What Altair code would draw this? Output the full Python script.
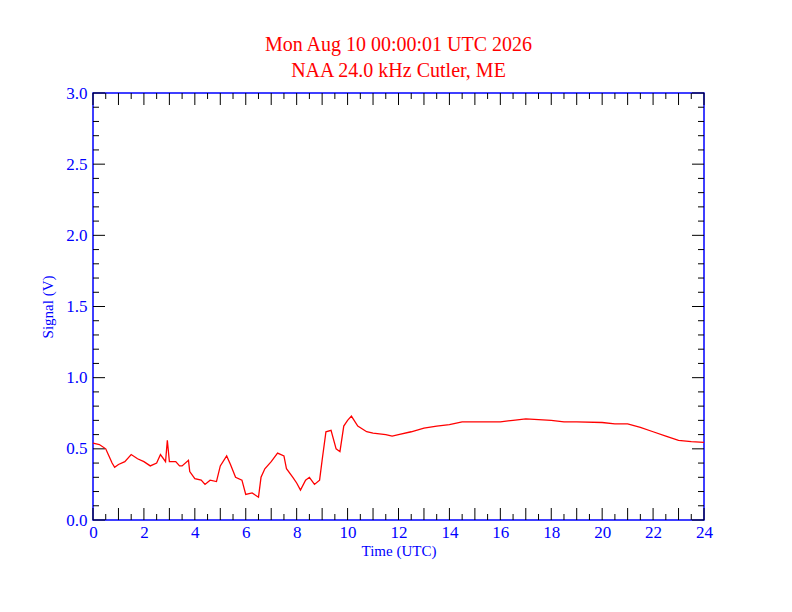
import altair as alt
import pandas as pd

# signal trace (hours UTC, volts)
hours = [0, 0.25, 0.5, 0.6, 0.75, 0.85, 1.0, 1.25, 1.5, 1.75, 2.0, 2.25, 2.5, 2.65,
         2.85, 2.92, 3.0, 3.25, 3.4, 3.5, 3.75, 3.8, 4.0, 4.25, 4.4, 4.6, 4.85, 5.0,
         5.25, 5.4, 5.6, 5.85, 6.0, 6.25, 6.5, 6.6, 6.75, 7.0, 7.25, 7.5, 7.6, 7.85,
         8.0, 8.15, 8.35, 8.5, 8.7, 8.9, 9.0, 9.15, 9.35, 9.55, 9.7, 9.85, 10.0,
         10.15, 10.4, 10.75, 11.0, 11.5, 11.75, 12.0, 12.5, 13.0, 13.5, 14.0, 14.5,
         15.0, 16.0, 16.5, 17.0, 18.0, 18.5, 19.0, 20.0, 20.5, 21.0, 21.5, 22.0,
         22.5, 23.0, 23.5, 24.0]
signal = [0.54, 0.53, 0.50, 0.46, 0.40, 0.37, 0.39, 0.41, 0.46, 0.43, 0.41, 0.38,
          0.40, 0.46, 0.41, 0.56, 0.41, 0.41, 0.38, 0.38, 0.42, 0.34, 0.29, 0.28,
          0.25, 0.28, 0.27, 0.38, 0.45, 0.39, 0.30, 0.28, 0.18, 0.19, 0.16, 0.30,
          0.36, 0.41, 0.47, 0.45, 0.36, 0.30, 0.26, 0.21, 0.28, 0.30, 0.25, 0.28,
          0.42, 0.62, 0.63, 0.50, 0.48, 0.66, 0.70, 0.73, 0.66, 0.62, 0.61, 0.60,
          0.59, 0.60, 0.62, 0.645, 0.66, 0.67, 0.69, 0.69, 0.69, 0.70, 0.71, 0.70,
          0.69, 0.69, 0.685, 0.675, 0.675, 0.65, 0.62, 0.59, 0.56, 0.55, 0.545]

x_major = list(range(0, 25))
x_minor = [h + 0.5 for h in range(0, 24)]
y_major = [0, 0.5, 1.0, 1.5, 2.0, 2.5, 3.0]
y_minor = [i / 10 for i in range(0, 31) if i % 5]

W, H = 611, 427
BLUE = "#0000ff"
FONT = "Liberation Serif"

xs = alt.Scale(domain=[0, 24], nice=False)
ys = alt.Scale(domain=[0, 3], nice=False)

df = pd.DataFrame({"h": hours, "v": signal})

line = alt.Chart(df).mark_line(color="red", strokeWidth=1.3).encode(
    x=alt.X("h:Q", scale=xs, title="Time (UTC)",
            axis=alt.Axis(values=list(range(0, 25, 2)), ticks=False, domain=False,
                          grid=False, labelFlush=False, labelOverlap=False,
                          labelColor=BLUE, labelFontSize=17, labelFont=FONT,
                          labelPadding=4, titleColor=BLUE, titleFont=FONT,
                          titleFontSize=15, titleFontWeight="normal", titlePadding=3)),
    y=alt.Y("v:Q", scale=ys, title="Signal (V)",
            axis=alt.Axis(values=y_major, format=".1f", ticks=False, domain=False,
                          grid=False, labelFlush=False, labelOverlap=False,
                          labelColor=BLUE, labelFontSize=17, labelFont=FONT,
                          labelPadding=6, titleColor=BLUE, titleFont=FONT,
                          titleFontSize=15, titleFontWeight="normal", titlePadding=10)),
)


def xticks(vals, length):
    d = pd.DataFrame({"h": vals})
    bottom = alt.Chart(d).mark_rule(color="black").encode(
        x=alt.X("h:Q", scale=xs), y=alt.value(H), y2=alt.value(H - length))
    top = alt.Chart(d).mark_rule(color="black").encode(
        x=alt.X("h:Q", scale=xs), y=alt.value(0), y2=alt.value(length))
    return [bottom, top]


def yticks(vals, length):
    d = pd.DataFrame({"v": vals})
    left = alt.Chart(d).mark_rule(color="black").encode(
        y=alt.Y("v:Q", scale=ys), x=alt.value(0), x2=alt.value(length))
    right = alt.Chart(d).mark_rule(color="black").encode(
        y=alt.Y("v:Q", scale=ys), x=alt.value(W), x2=alt.value(W - length))
    return [left, right]


layers = (xticks(x_major, 12) + xticks(x_minor, 6)
          + yticks(y_major, 12) + yticks(y_minor, 6) + [line])

chart = alt.layer(*layers).properties(
    width=W, height=H,
    autosize=alt.AutoSizeParams(type="none"),
    padding={"left": 85, "top": 85, "right": 80, "bottom": 84},
    title=alt.TitleParams(["Mon Aug 10 00:00:01 UTC 2026", "NAA 24.0 kHz Cutler, ME"],
                          color="red", font=FONT, fontSize=20, fontWeight="normal",
                          lineHeight=26, offset=3, anchor="middle"),
    background="white",
).configure_view(stroke=BLUE, strokeWidth=1.5)

chart.save("out.html", embed_options={"renderer": "svg", "actions": False})
